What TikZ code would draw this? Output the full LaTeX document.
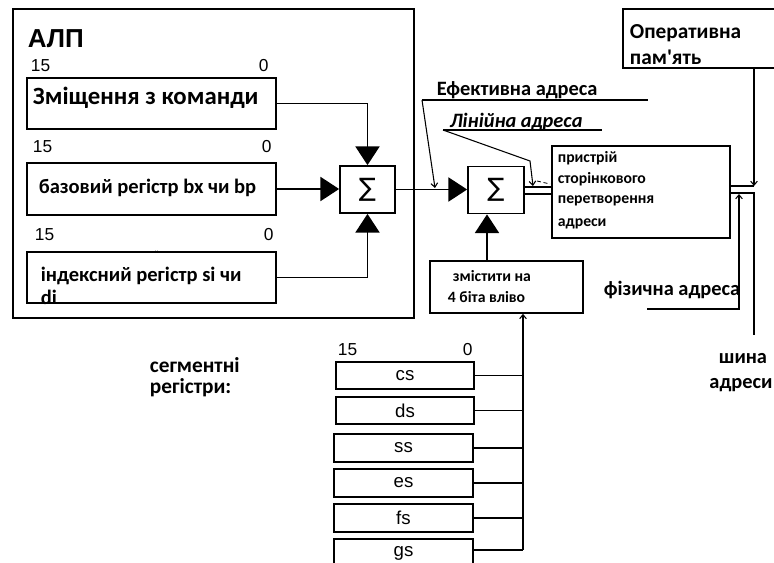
\documentclass[tikz,border=0pt]{standalone}
\usepackage{fontspec}
\setmainfont{Carlito}
\newfontfamily\arialf{Liberation Sans}
\newfontfamily\djv{DejaVu Sans}
\usetikzlibrary{arrows.meta,calc}
\begin{document}
\begin{tikzpicture}[x=0.75pt,y=-0.75pt,line width=1.3pt,
  box/.style 2 args={draw, rectangle, inner sep=0pt, minimum width=#1*0.75pt, minimum height=#2*0.75pt},
  lbl/.style={anchor=base west, inner sep=0pt},
  dig/.style={lbl, font=\arialf\fontsize{13}{15}\selectfont},
  bold/.style={lbl, font=\bfseries\fontsize{#1}{#1}\selectfont},
  bigarrow/.style={-{Triangle[length=14pt,width=18pt]}},
  smallarrow/.style={-{Straight Barb[length=3pt,width=5pt]}, line width=0.8pt},
  thinline/.style={line width=1pt},
  seg/.style={box={139}{28}, font=\arialf\fontsize{14}{15}\selectfont},
  sigma/.style={box={#1}{47}, font=\djv\fontsize{19}{20}\selectfont}
]
\clip (0,0) rectangle (774,563);
\fill[white] (0,0) rectangle (774,563);

% ALU
\node[box={401}{309}] (alu) at (213.5,163.5) {};
\node[lbl, font=\arialf\bfseries\fontsize{19.5}{20}\selectfont] (alut) at (27,48) {АЛП};

\node[dig] (r1a) at (30,72) {15};
\node[dig] (r1b) at (258,72) {0};
\node[box={249}{51}] (reg1) at (151.5,103.5) {};
\node[bold=18.6] (t1) at (32,105) {Зміщення з команди};

\node[dig] (r2a) at (32,152) {15};
\node[dig] (r2b) at (261,152) {0};
\node[box={249}{52}] (reg2) at (151.5,189) {};
\node[bold=15.4] (t2) at (38,193) {базовий регістр bx чи bp};

\node[dig] (r3a) at (34,240) {15};
\node[dig] (r3b) at (263,240) {0};
\node[box={249}{51}] (reg3) at (151.5,277.5) {};
\node[lbl, font=\arialf\fontsize{8}{8}\selectfont] (dots) at (154,258) {¨};
\node[bold=15.4] (t3) at (40,281) {індексний регістр si чи};
\node[bold=15.4] (t3b) at (40,304) {di};

\node[sigma=55] (sig1) at (367.5,189.5) {∑};

\draw[bigarrow] (reg1.east) -| (sig1.north);
\draw[bigarrow] (reg2.east) -- (reg2.east -| sig1.west);
\draw[bigarrow] (reg3.east) -| (sig1.south);

% second adder
\node[sigma=56] (sig2) at (496,190) {∑};
\draw[bigarrow] (sig1.east) -- (sig1.east -| sig2.west);

% shift box
\node[box={153}{52}] (shift) at (506.5,287) {};
\node[bold=11.8] (sh1) at (452,281) {змістити на};
\node[bold=11.8] (sh2) at (447,302) {4 біта вліво};
\coordinate (shx) at (487,0);
\draw[bigarrow] (shift.north -| shx) -- (sig2.south -| shx);

% paging unit
\node[box={178}{92}] (paging) at (641,192) {};
\node[bold=11.8] (p1) at (557,162) {пристрій};
\node[bold=11.8] (p2) at (557,183) {сторінкового};
\node[bold=11.8] (p3) at (557,204) {перетворення};
\node[bold=11.8] (p4) at (557,226) {адреси};

\coordinate (s2o1) at ($(sig2.east)+(0,-3)$);
\coordinate (s2o2) at ($(sig2.east)+(0,4)$);
\draw (s2o1) -- (s2o1 -| paging.west);
\draw (s2o2) -- (s2o2 -| paging.west);

% memory
\node[box={177}{59}] (memory) at (711.5,38.5) {};
\node[bold=16] (m1) at (629,39) {Оперативна};
\node[bold=16] (m2) at (629,65) {пам\textquotesingle ять};

\coordinate (busx) at (754,0);
\coordinate (pgo1) at ($(paging.east)+(0,-6)$);
\coordinate (pgo2) at ($(paging.east)+(0,1)$);
\coordinate (busend) at (754,335);
\draw[smallarrow] (memory.south -| busx) -- (pgo1 -| busx);
\draw (pgo1 -| busx) -- (pgo1);
\draw (pgo2) -- (pgo2 -| busx) -- (busend);

% effective address callout
\node[bold=15.3] (eft) at (436,96) {Ефективна адреса};
\coordinate (ef1) at (422,100);
\coordinate (ef2) at (648,100);
\coordinate (eftip) at (435,188);
\draw[thinline] (ef1) -- (ef2);
\draw[smallarrow] (ef1) -- (eftip);

% linear address callout
\node[lbl, font=\bfseries\itshape\fontsize{15.3}{15}\selectfont] (lnt) at (449,128) {Лінійна адреса};
\coordinate (ln1) at (443,130);
\coordinate (ln2) at (602,130);
\coordinate (lnb) at (530,161);
\coordinate (lntip) at (533,186);
\draw[thinline] (ln1) -- (ln2);
\draw[smallarrow] (ln1) -- (lnb) -- (lntip);
\draw[line width=0.6pt, dash pattern=on 3pt off 2pt] (lntip) ++(4,-5) coordinate (d1) -- ++(13,3);

% physical address callout
\node[bold=15.3] (fzt) at (603,295) {фізична адреса};
\coordinate (fz1) at (647,309);
\coordinate (fzc) at (739,309);
\coordinate (fztip) at (739,194);
\draw[smallarrow] (fz1) -- (fzc) -- (fztip);

% bus label
\node[bold=15.3, anchor=base] (bus1) at (743,363) {шина};
\node[bold=15.3, anchor=base] (bus2) at (741,388) {адреси};

% segment registers
\node[bold=16] (sgt1) at (149,372) {сегментні};
\node[bold=16] (sgt2) at (149,393) {регістри:};
\node[dig] (s15) at (337,355) {15};
\node[dig] (s0) at (462,355) {0};
\node[seg, minimum width=138*0.75pt, minimum height=27*0.75pt] (cs) at (405,375.5) {cs};
\node[seg, minimum width=138*0.75pt, minimum height=27*0.75pt] (ds) at (405,410.5) {ds};
\node[seg] (ss) at (403.5,448) {ss};
\node[seg] (es) at (403.5,483) {es};
\node[seg] (fs) at (403.5,518) {fs};
\node[seg] (gs) at (403.5,553) {gs};

\coordinate (segx) at (523,0);
\coordinate (segbot) at (523,550);
\draw (cs.east) -- (cs.east -| segx);
\draw (ds.east) -- (ds.east -| segx);
\draw (ss.east) -- (ss.east -| segx);
\draw (es.east) -- (es.east -| segx);
\draw (fs.east) -- (fs.east -| segx);
\draw (gs.east |- segbot) -- (segbot);
\draw[smallarrow] (segbot) -- (shift.south -| segx);
\end{tikzpicture}
\end{document}
